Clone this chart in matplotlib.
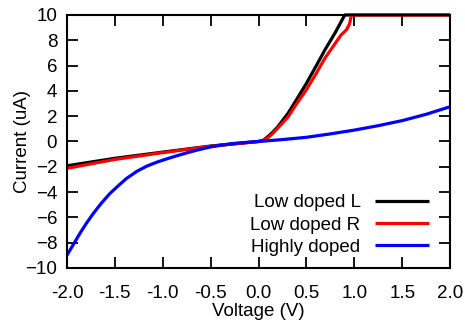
import matplotlib
matplotlib.use("Agg")
import matplotlib.pyplot as plt

plt.rcParams['font.family'] = ['Liberation Sans', 'DejaVu Sans']
plt.rcParams['font.size'] = 13.5

# DATA
v_low_l = [-2.0, -1.5, -1.0, -0.5, 0.0, 0.05, 0.1, 0.15, 0.2, 0.31, 0.4, 0.5,
           0.6, 0.69, 0.8, 0.9, 2.0]
i_low_l = [-1.92, -1.33, -0.84, -0.36, 0.0, 0.1, 0.4, 0.75, 1.15, 2.25, 3.35, 4.6,
           5.95, 7.2, 8.6, 10.0, 10.0]

v_low_r = [-2.0, -1.5, -1.0, -0.5, 0.0, 0.05, 0.1, 0.15, 0.2, 0.31, 0.4, 0.5,
           0.6, 0.69, 0.8, 0.86, 0.92, 0.95, 0.97, 2.0]
i_low_r = [-2.12, -1.42, -0.88, -0.38, 0.0, 0.08, 0.3, 0.65, 1.05, 1.96, 3.0, 4.1,
           5.35, 6.55, 7.75, 8.4, 8.85, 9.3, 10.0, 10.0]

v_high = [-2.0, -1.93, -1.865, -1.8, -1.725, -1.64, -1.55, -1.46, -1.378, -1.27,
          -1.17, -1.06, -0.96, -0.875, -0.75, -0.625, -0.5, -0.375, -0.25, -0.125,
          0.0, 0.25, 0.5, 0.75, 1.0, 1.25, 1.5, 1.75, 2.0]
i_high = [-9.0, -8.1, -7.27, -6.5, -5.69, -4.87, -4.1, -3.47, -2.92, -2.36,
          -1.96, -1.63, -1.38, -1.18, -0.9, -0.65, -0.43, -0.27, -0.15, -0.07,
          0.0, 0.15, 0.33, 0.6, 0.9, 1.25, 1.65, 2.15, 2.75]

labels = ["Low doped L", "Low doped R", "Highly doped"]
colors = ["black", "#ff0000", "#0000ff"]

x_ticks = [-2.0, -1.5, -1.0, -0.5, 0.0, 0.5, 1.0, 1.5, 2.0]
y_ticks = [-10, -8, -6, -4, -2, 0, 2, 4, 6, 8, 10]


fig = plt.figure(figsize=(4.65, 3.26), dpi=100)
ax = fig.add_axes([0.144, 0.178, 0.824, 0.776])

series = [(v_low_l, i_low_l), (v_low_r, i_low_r), (v_high, i_high)]
for (v, i), lab, c in zip(series, labels, colors):
    ax.plot(v, i, color=c, lw=2.3, label=lab, clip_on=False,
            solid_capstyle='butt', solid_joinstyle='round')

ax.set_xlim(-2, 2)
ax.set_ylim(-10, 10)
ax.set_xticks(x_ticks)
ax.set_xticklabels(["%.1f" % t for t in x_ticks])
ax.set_yticks(y_ticks)

ax.tick_params(direction='in', length=8, width=1.3, top=True, right=True)
ax.tick_params(axis='x', pad=12)
ax.tick_params(axis='y', pad=7)
for s in ax.spines.values():
    s.set_linewidth(1.5)

ax.set_xlabel("Voltage (V)", labelpad=1)
ax.set_ylabel("Current (uA)", labelpad=-4)

ax.legend(loc='lower right', bbox_to_anchor=(0.984, -0.012),
          frameon=False, markerfirst=False,
          handlelength=2.9, handletextpad=0.75, labelspacing=0.28,
          borderaxespad=0.4)

fig.savefig("out.png", dpi=100)
